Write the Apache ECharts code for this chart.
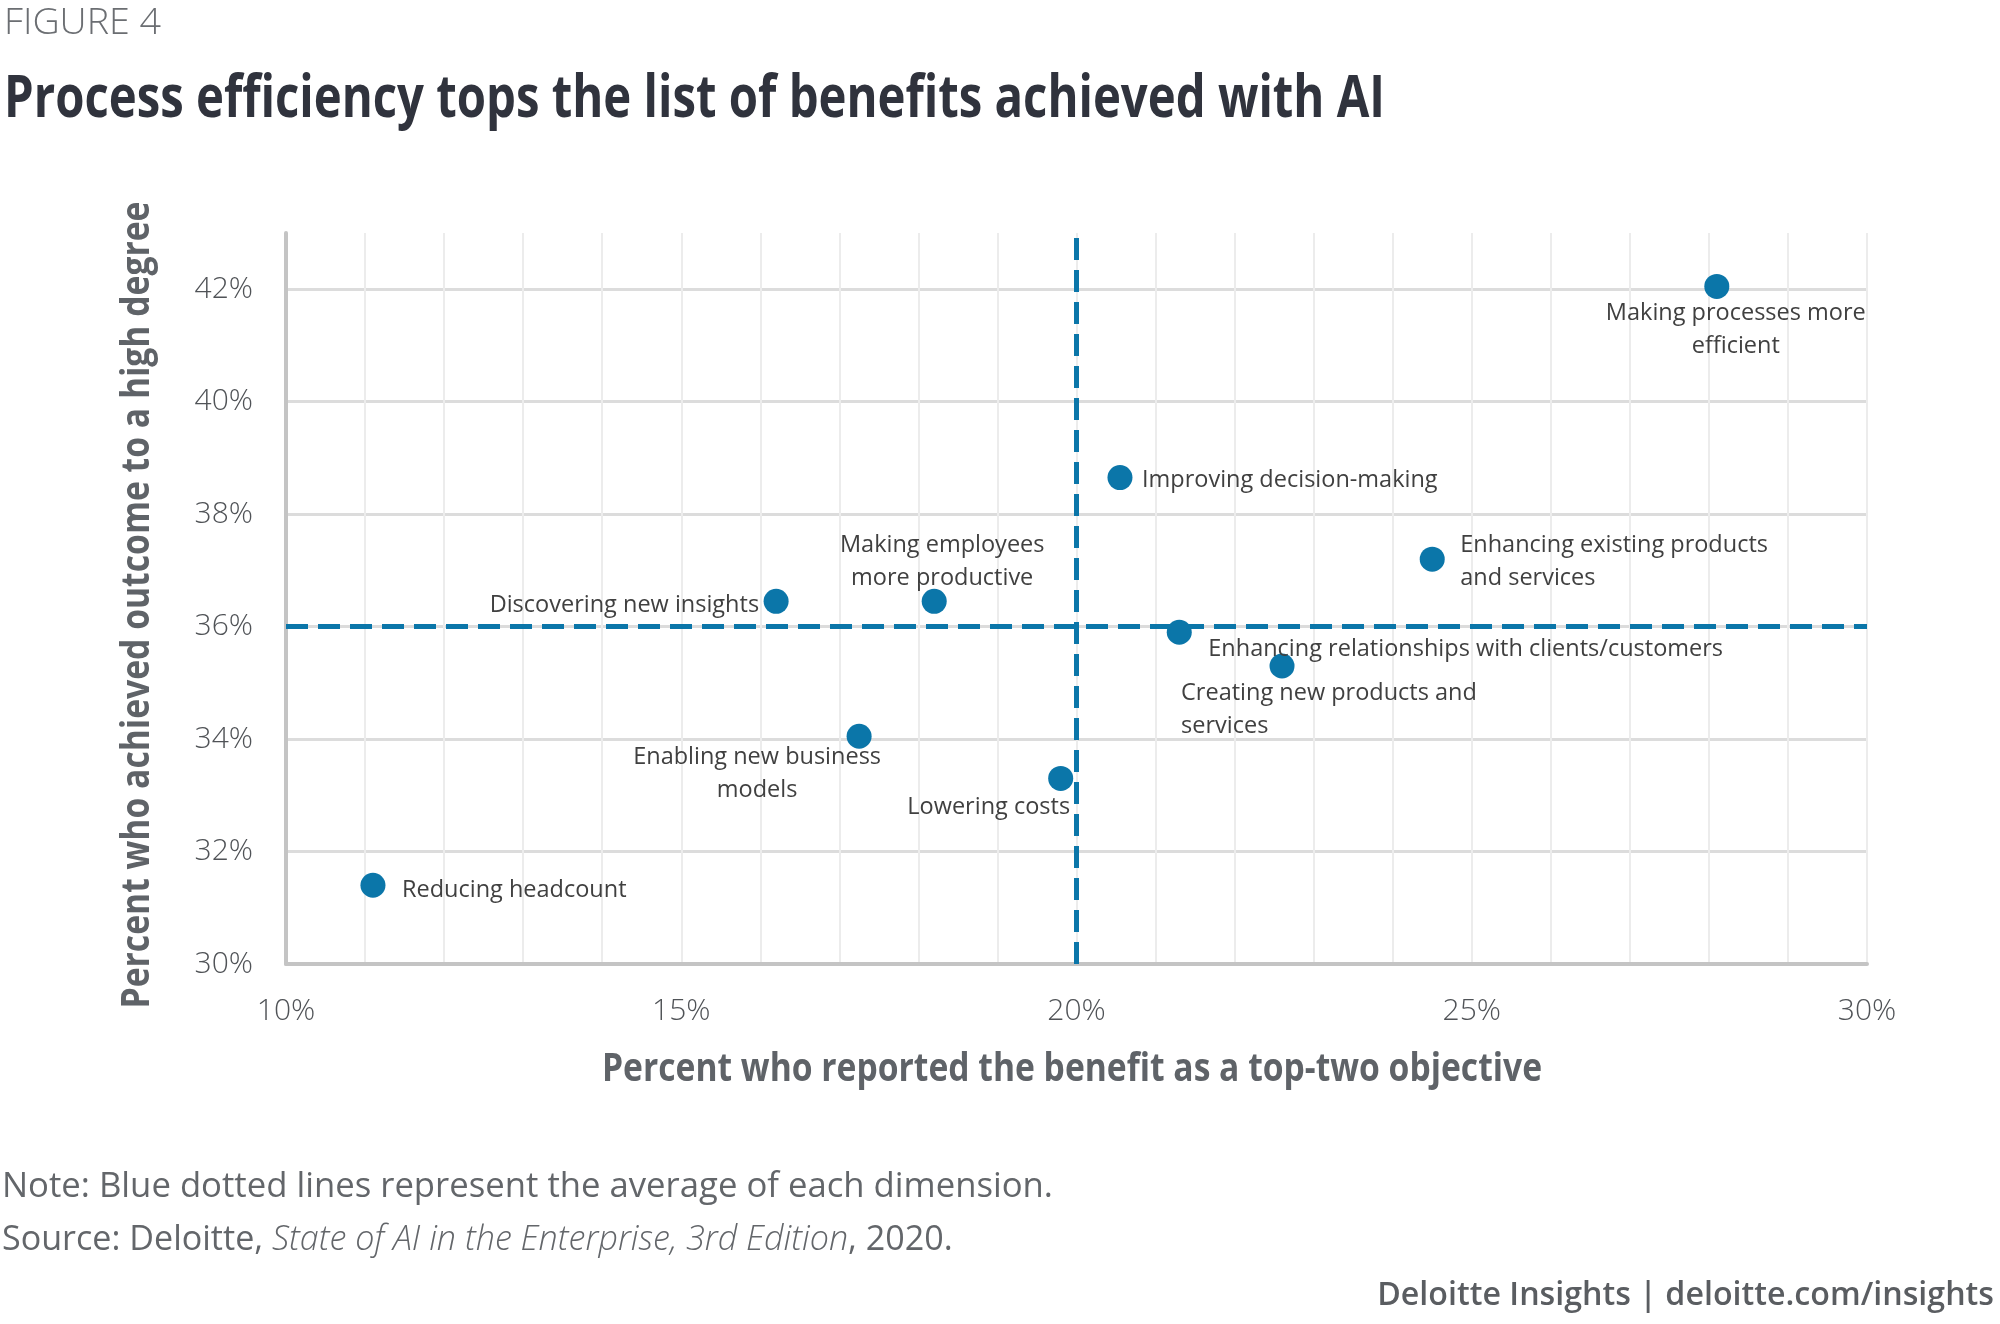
<!DOCTYPE html>
<html><head><meta charset="utf-8">
<script src="https://cdn.jsdelivr.net/npm/echarts@6/dist/echarts.min.js"></script>
<style>html,body{margin:0;padding:0;background:#fff}#c{width:2000px;height:1324px}</style>
</head><body><div id="c"></div>
<script>
// ---- data ----
const benefits = [
  'Making processes more\nefficient',
  'Improving decision-making',
  'Enhancing existing products\nand services',
  'Discovering new insights',
  'Making employees\nmore productive',
  'Enhancing relationships with clients/customers',
  'Creating new products and\nservices',
  'Enabling new business\nmodels',
  'Lowering costs',
  'Reducing headcount'
];
const reportedAsObjective = [28.1, 20.55, 24.5, 16.2, 18.2, 21.3, 22.6, 17.25, 19.8, 11.1];
const achievedHighDegree  = [42.05, 38.65, 37.2, 36.45, 36.45, 35.9, 35.3, 34.05, 33.3, 31.4];
const averageReported = 20;
const averageAchieved = 36;
const xTickValues = [10, 15, 20, 25, 30];
const yTickValues = [30, 32, 34, 36, 38, 40, 42];

// ---- label placement (style only) ----
const labelPlacement = [
  {align: 'center', offset: [19, 43]},
  {align: 'left',   offset: [22, 3]},
  {align: 'left',   offset: [28, 3]},
  {align: 'right',  offset: [-17, 4]},
  {align: 'center', offset: [8, -39]},
  {align: 'left',   offset: [29, 17]},
  {align: 'left',   offset: [-101, 44]},
  {align: 'center', offset: [-102, 38]},
  {align: 'center', offset: [-72, 29]},
  {align: 'left',   offset: [29, 5]}
];

const BLUE = '#0b76a9';
const FONT = '"Open Sans", "Noto Sans", sans-serif';
const ctx = document.createElement('canvas').getContext('2d');
function measure(str, font) { ctx.font = font; return ctx.measureText(str).width; }

// condensed texts via scaleX
const titleText = 'Process efficiency tops the list of benefits achieved with AI';
const titleFont = 'bold 59px ' + FONT;
const titleScale = 1381 / measure(titleText, titleFont);
const figText = 'FIGURE 4';
const figFont = '300 37px ' + FONT;
const figScale = 157 / measure(figText, figFont);
const xNameText = 'Percent who reported the benefit as a top-two objective';
const yNameText = 'Percent who achieved outcome to a high degree';
const nameFont = 'bold 40px ' + FONT;
const xNameScale = 940 / measure(xNameText, nameFont);
const yNameScale = 807 / measure(yNameText, nameFont);
const noteText = 'Note: Blue dotted lines represent the average of each dimension.';
const noteSize = Math.round(32 * 1050 / measure(noteText, '32px ' + FONT) * 10) / 10;
const srcA = 'Source: Deloitte, ', srcB = 'State of AI in the Enterprise, 3rd Edition', srcC = ', 2020.';
const srcW = measure(srcA + srcC, '32px ' + FONT) + measure(srcB, 'italic 300 32px ' + FONT);
const srcSize = Math.round(32 * 950 / srcW * 10) / 10;
const creditText = 'Deloitte Insights | deloitte.com/insights';
const creditSize = Math.round(32 * 617 / measure(creditText, '600 32px ' + FONT) * 10) / 10;

const chart = echarts.init(document.getElementById('c'), null, {renderer: 'canvas'});

const points = reportedAsObjective.map((x, i) => ({
  name: benefits[i],
  value: [x, achievedHighDegree[i]],
  label: {align: labelPlacement[i].align, offset: labelPlacement[i].offset}
}));

chart.setOption({
  animation: false,
  backgroundColor: '#ffffff',
  grid: {left: 286, right: 133, top: 233, bottom: 360, containLabel: false},
  xAxis: {
    type: 'value', min: xTickValues[0], max: xTickValues[xTickValues.length - 1], interval: 5,
    axisLine: {show: true, onZero: false, lineStyle: {color: '#c4c4c4', width: 4}},
    axisTick: {show: false},
    minorTick: {show: false, splitNumber: 5},
    minorSplitLine: {show: true, lineStyle: {color: '#ececec', width: 2}},
    splitLine: {show: true, lineStyle: {color: '#ececec', width: 2}},
    axisLabel: {formatter: v => v + '%', color: '#505357', fontFamily: FONT, fontWeight: 300, fontSize: 30, margin: 32}
  },
  yAxis: {
    type: 'value', min: yTickValues[0], max: 43, interval: 2,
    axisLine: {show: true, onZero: false, lineStyle: {color: '#c4c4c4', width: 4}},
    axisTick: {show: false},
    splitLine: {show: true, showMaxLine: false, lineStyle: {color: '#dcdcdc', width: 3}},
    axisLabel: {formatter: v => (v > 42 ? '' : v + '%'), showMaxLabel: false, color: '#505357', fontFamily: FONT, fontWeight: 300, fontSize: 30, margin: 33}
  },
  series: [
    {
      type: 'line', data: [], z: 1, silent: true,
      markLine: {
        silent: true, symbol: 'none', animation: false,
        label: {show: false},
        lineStyle: {color: BLUE, width: 5, type: [22, 10]},
        emphasis: {disabled: true},
        data: [{xAxis: averageReported}, {yAxis: averageAchieved}]
      }
    },
    {
      type: 'scatter', z: 3, symbol: 'circle', symbolSize: 25,
      itemStyle: {color: BLUE, opacity: 1},
      emphasis: {disabled: true},
      label: {
        show: true, position: 'inside', verticalAlign: 'middle',
        formatter: p => p.name,
        color: '#404040', fontFamily: FONT, fontSize: 23.5, lineHeight: 33
      },
      data: points
    }
  ],
  graphic: [
    {type: 'text', x: 4, y: 23, scaleX: figScale, style: {text: figText, font: figFont, fill: '#6b6e72', align: 'left', verticalAlign: 'middle'}},
    {type: 'text', x: 4, y: 100, scaleX: titleScale, style: {text: titleText, font: titleFont, fill: '#30333d', align: 'left', verticalAlign: 'middle'}},
    {type: 'text', x: 1072, y: 1070, scaleX: xNameScale, style: {text: xNameText, font: nameFont, fill: '#5f6368', align: 'center', verticalAlign: 'middle'}},
    {type: 'text', x: 138, y: 605, rotation: Math.PI / 2, scaleX: yNameScale, style: {text: yNameText, font: nameFont, fill: '#5f6368', align: 'center', verticalAlign: 'middle'}},
    {type: 'text', x: 2, y: 1187, style: {text: noteText, font: noteSize + 'px ' + FONT, fill: '#63666a', align: 'left', verticalAlign: 'middle'}},
    {type: 'text', x: 2, y: 1240, style: {
      text: '{r|' + srcA + '}{i|' + srcB + '}{r|' + srcC + '}',
      fill: '#63666a', align: 'left', verticalAlign: 'middle',
      rich: {
        r: {fontFamily: FONT, fontSize: srcSize, fill: '#63666a', color: '#63666a'},
        i: {fontFamily: FONT, fontSize: srcSize, fontStyle: 'italic', fontWeight: 300, fill: '#63666a', color: '#63666a'}
      }
    }},
    {type: 'text', x: 1994, y: 1296, style: {text: creditText, font: '600 ' + creditSize + 'px ' + FONT, fill: '#5a5d61', align: 'right', verticalAlign: 'middle'}}
  ]
});
</script>
</body></html>
